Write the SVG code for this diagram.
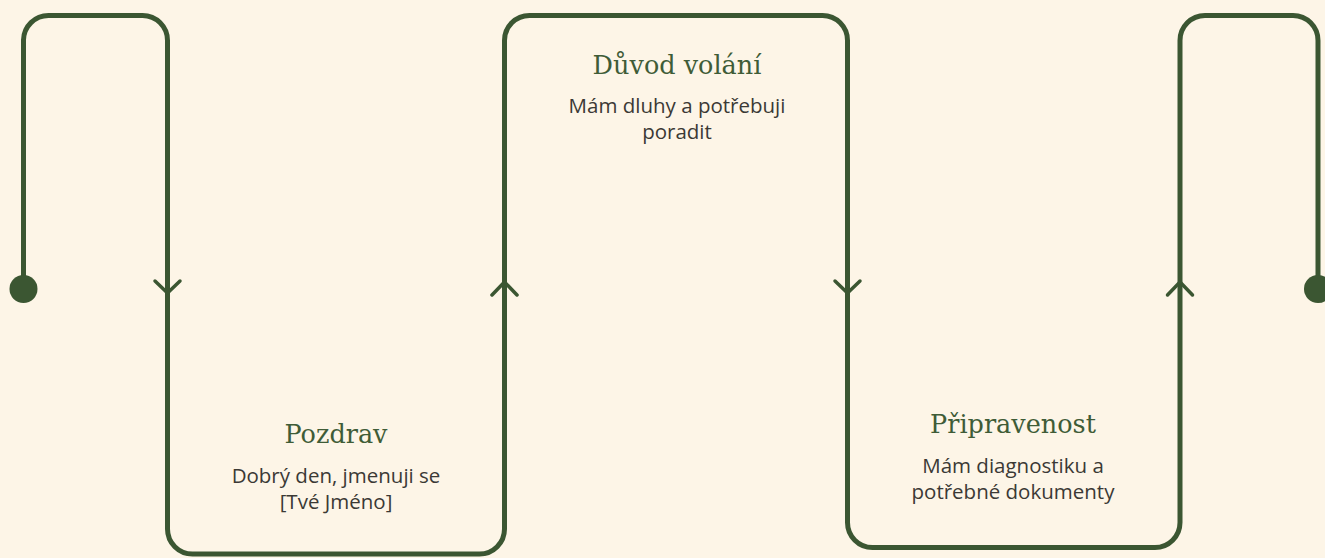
<svg xmlns="http://www.w3.org/2000/svg" width="1325" height="558" viewBox="0 0 1325 558">
  <style>
    .line { fill: none; stroke: #3b5632; stroke-width: 5; }
    .chev { fill: none; stroke: #3b5632; stroke-width: 3.5; stroke-linecap: round; stroke-linejoin: round; }
    .dot { fill: #3b5632; }
    .title { font-family: "DejaVu Serif", "Liberation Serif", serif; font-size: 25.5px; fill: #3f5c37; text-anchor: middle; }
    .body { font-family: "Open Sans", "Noto Sans", sans-serif; font-size: 20.5px; fill: #3b3935; text-anchor: middle; }
  </style>
  <rect width="1325" height="558" fill="#fdf5e7"/>
  <g id="connectors">
    <path class="line" d="M23.5,289 V40 A25,25 0 0 1 48.5,15.5 H142.5 A25,25 0 0 1 167.5,40.5 V529 A25,25 0 0 0 192.5,554 H479.5 A25,25 0 0 0 504.5,529 V40.5 A25,25 0 0 1 529.5,15.5 H822.5 A25,25 0 0 1 847.5,40.5 V522.5 A25,25 0 0 0 872.5,547.5 H1155 A25,25 0 0 0 1180,522.5 V40.5 A25,25 0 0 1 1205,15.5 H1293 A25,25 0 0 1 1318,40.5 V289"/>
    <circle class="dot" cx="23.5" cy="289" r="14"/>
    <circle class="dot" cx="1318" cy="289" r="14"/>
    <polyline class="chev" points="155,281 167.5,293 180,281"/>
    <polyline class="chev" points="492,295 504.5,282 517,295"/>
    <polyline class="chev" points="835,281 847.5,293 860,281"/>
    <polyline class="chev" points="1167.5,295 1180,282 1192.5,295"/>
  </g>
  <g id="node-pozdrav">
    <text class="title" x="336" y="443">Pozdrav</text>
    <text class="body" x="336" y="483">Dobrý den, jmenuji se</text>
    <text class="body" x="336" y="509">[Tvé Jméno]</text>
  </g>
  <g id="node-duvod">
    <text class="title" x="677" y="74">Důvod volání</text>
    <text class="body" x="677" y="113">Mám dluhy a potřebuji</text>
    <text class="body" x="677" y="139">poradit</text>
  </g>
  <g id="node-pripravenost">
    <text class="title" x="1013" y="433">Připravenost</text>
    <text class="body" x="1013" y="473">Mám diagnostiku a</text>
    <text class="body" x="1013" y="499">potřebné dokumenty</text>
  </g>
</svg>
